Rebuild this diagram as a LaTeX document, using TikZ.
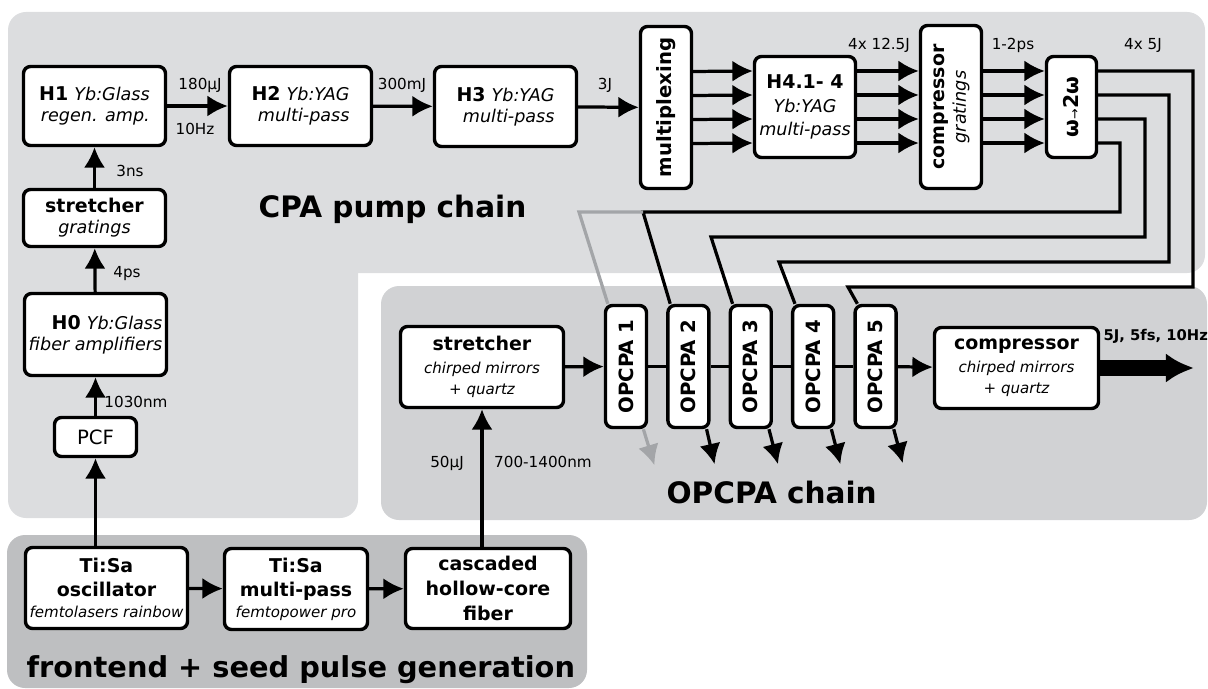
\documentclass[tikz,border=0pt]{standalone}
\usepackage{fontspec}
\setmainfont{DejaVu Sans}
\usepackage{graphicx}
\usepackage{tikz}
\definecolor{cpagray}{RGB}{220,221,223}
\definecolor{opgray}{RGB}{209,210,212}
\definecolor{frontgray}{RGB}{190,191,193}
\definecolor{residue}{RGB}{163,165,168}
\tikzstyle{block}=[draw,fill=white,rounded corners=5pt,line width=2.4pt,inner sep=0pt,align=center,
font=\fontsize{13.5}{15}\selectfont]
\tikzstyle{opcpa}=[block,minimum width=1.025cm,minimum height=3.05cm]
\tikzstyle{lbl}=[inner sep=0pt,font=\fontsize{10.8}{12}\selectfont]
\tikzstyle{chainname}=[inner sep=0pt,font=\fontsize{21}{24}\selectfont\bfseries]
\newcommand{\medit}[1]{{\fontsize{12.5}{14}\selectfont\itshape #1}}
\newcommand{\smallit}[1]{{\fontsize{10.7}{12}\selectfont\itshape #1}}
\usetikzlibrary{arrows.meta,positioning}

\begin{document}
\begin{tikzpicture}[x=0.025cm,y=-0.025cm,line width=2.3pt,>={Latex[length=14.5pt,width=15pt]}]
            \useasboundingbox (0,0) rectangle (1208,689);

            % PANELS

            \fill[cpagray,rounded corners=0.45cm] (8,12) rectangle (1205,273);
            \fill[cpagray,rounded corners=0.45cm] (8,200) rectangle (358,518);
            \fill[opgray,rounded corners=0.45cm] (381,286) rectangle (1207,520);
            \fill[frontgray,rounded corners=0.45cm] (7,535) rectangle (587,688);

            \node[chainname,anchor=base west] (cpatitle) at (257,217) {CPA pump chain};
            \node[chainname,anchor=base west] (optitle) at (665,503) {OPCPA chain};
            \node[chainname,anchor=base west,font=\fontsize{20.5}{24}\selectfont\bfseries] (fronttitle) at (25,677) {frontend + seed pulse generation};

            % FRONTEND PART

            \node[block,minimum width=4.05cm,minimum height=2.025cm] (osc) at (106.5,588)
                {\textbf{Ti:Sa}\\[2pt]\textbf{oscillator}\\\smallit{femtolasers rainbow}};
            \node[block,minimum width=3.575cm,minimum height=2.025cm] (tmp) at (296,589)
                {\textbf{Ti:Sa}\\[2pt]\textbf{multi-pass}\\\smallit{femtopower pro}};
            \node[block,minimum width=4.125cm,minimum height=2cm] (casc) at (488,588.5)
                {\textbf{cascaded}\\[3pt]\textbf{hollow-core}\\[3pt]\textbf{fiber}};

            \path[->] (osc) edge node {} (tmp);
            \path[->] (tmp) edge node {} (casc);

            % CPA PART

            \node[block,minimum width=2.05cm,minimum height=0.975cm,font=\fontsize{14}{15}\selectfont] (pcf) at (95.5,437) {PCF};
            \node[block,minimum width=3.55cm,minimum height=2.05cm,align=right] (h0) at (95.5,334.5)
                {\textbf{H0} \medit{Yb:Glass}\\\medit{fiber amplifiers}};
            \node[block,minimum width=3.55cm,minimum height=1.425cm] (str) at (94.5,218)
                {\textbf{stretcher}\\\medit{gratings}};
            \node[block,minimum width=3.55cm,minimum height=1.975cm,align=right] (h1) at (94.5,106)
                {\textbf{H1} \medit{Yb:Glass}\\\medit{regen. amp.}};
            \node[block,minimum width=3.55cm,minimum height=1.975cm,align=right] (h2) at (300.5,106)
                {\textbf{H2} \medit{Yb:YAG}\\\medit{multi-pass}};
            \node[block,minimum width=3.55cm,minimum height=2cm,align=right] (h3) at (505.5,106.5)
                {\textbf{H3} \medit{Yb:YAG}\\\medit{multi-pass}};
            \node[block,minimum width=1.275cm,minimum height=4.05cm] (mux) at (666,107.5)
                {\rotatebox{90}{\fontsize{14}{15}\selectfont\bfseries multiplexing}};
            \node[block,minimum width=2.525cm,minimum height=2.525cm] (h4) at (805,107)
                {\textbf{H4.1- 4}\\[2pt]\medit{Yb:YAG}\\[1pt]\medit{multi-pass}};
            \node[block,minimum width=1.525cm,minimum height=4.075cm] (comp) at (951,107)
                {\rotatebox{90}{\begin{tabular}{@{}c@{}}\textbf{compressor}\\\medit{gratings}\end{tabular}}};
            \node[block,minimum width=1.25cm,minimum height=2.525cm] (w2w) at (1071.5,107)
                {\rotatebox{90}{\fontsize{14.5}{15}\selectfont\bfseries ω{\mdseries\fontsize{9}{9}\selectfont →}2ω}};

            \draw[->] (osc.north -| pcf) -- (pcf);
            \path[->] (pcf) edge node {} (h0);
            \path[->] (h0) edge node {} (str);
            \path[->] (str) edge node {} (h1);
            \path[->] (h1) edge node {} (h2);
            \path[->] (h2) edge node {} (h3);
            \path[->] (h3) edge node {} (mux);

            \path[->] ([yshift=0.9cm]mux.east) edge ([yshift=0.9cm]h4.west);
            \path[->] ([yshift=0.3cm]mux.east) edge ([yshift=0.3cm]h4.west);
            \path[->] ([yshift=-0.3cm]mux.east) edge ([yshift=-0.3cm]h4.west);
            \path[->] ([yshift=-0.9cm]mux.east) edge ([yshift=-0.9cm]h4.west);
            \path[->] ([yshift=0.9cm]h4.east) edge ([yshift=0.9cm]comp.west);
            \path[->] ([yshift=0.3cm]h4.east) edge ([yshift=0.3cm]comp.west);
            \path[->] ([yshift=-0.3cm]h4.east) edge ([yshift=-0.3cm]comp.west);
            \path[->] ([yshift=-0.9cm]h4.east) edge ([yshift=-0.9cm]comp.west);
            \path[->] ([yshift=0.9cm]comp.east) edge ([yshift=0.9cm]w2w.west);
            \path[->] ([yshift=0.3cm]comp.east) edge ([yshift=0.3cm]w2w.west);
            \path[->] ([yshift=-0.3cm]comp.east) edge ([yshift=-0.3cm]w2w.west);
            \path[->] ([yshift=-0.9cm]comp.east) edge ([yshift=-0.9cm]w2w.west);

            \node[lbl,anchor=base] (e180) at (200,90) {180µJ};
            \node[lbl,anchor=base] (rep) at (195,135) {10Hz};
            \node[lbl,anchor=base] (e300) at (402,90) {300mJ};
            \node[lbl,anchor=base] (e3) at (605,90) {3J};
            \node[lbl,anchor=base] (e12) at (879,50) {4x 12.5J};
            \node[lbl,anchor=base] (tau) at (1013,50) {1-2ps};
            \node[lbl,anchor=base] (e5) at (1143,50) {4x 5J};
            \node[lbl,anchor=base] (t3) at (130,176) {3ns};
            \node[lbl,anchor=base] (t4) at (127,277) {4ps};
            \node[lbl,anchor=base] (l1030) at (136,407) {1030nm};

            % OPCPA PART

            \node[block,minimum width=4.075cm,minimum height=2.025cm] (ostr) at (482,367)
                {\textbf{stretcher}\\[1pt]\smallit{chirped mirrors}\\\smallit{+ quartz}};
            \node[opcpa] (op1) at (626,366.5) {\rotatebox{90}{\fontsize{14}{15}\selectfont\bfseries OPCPA 1}};
            \node[opcpa,right=0.45cm of op1] (op2) {\rotatebox{90}{\fontsize{14}{15}\selectfont\bfseries OPCPA 2}};
            \node[opcpa,right=0.45cm of op2] (op3) {\rotatebox{90}{\fontsize{14}{15}\selectfont\bfseries OPCPA 3}};
            \node[opcpa,right=0.45cm of op3] (op4) {\rotatebox{90}{\fontsize{14}{15}\selectfont\bfseries OPCPA 4}};
            \node[opcpa,right=0.45cm of op4] (op5) {\rotatebox{90}{\fontsize{14}{15}\selectfont\bfseries OPCPA 5}};
            \node[block,minimum width=4.1cm,minimum height=2.025cm] (ocomp) at (1016.5,368)
                {\textbf{compressor}\\[1pt]\smallit{chirped mirrors}\\\smallit{+ quartz}};
            \coordinate (out) at (1194,368);

            \draw[->] (casc.north -| ostr.south) -- (ostr.south);
            \path[->] (ostr) edge node {} (op1);
            \draw (op1) -- (op2);
            \draw (op2) -- (op3);
            \draw (op3) -- (op4);
            \draw (op4) -- (op5);
            \path[->] (op5) edge node {} (ocomp);
            \draw[line width=10.7pt,-{Latex[length=20pt,width=21pt]}] (ocomp) -- (out);

            \node[lbl,anchor=base] (e50) at (447,467) {50µJ};
            \node[lbl,anchor=base] (band) at (543,467) {700-1400nm};
            \node[lbl,anchor=base west,font=\fontsize{10.5}{12}\selectfont\bfseries] (final) at (1102,340) {5J, 5fs, 10Hz};

            % Pump beams to OPCPA stages

            \coordinate (fork) at (643,212);
            \draw ([yshift=0.9cm]w2w.east) -| (1193,287) -- (848,287) -- ([xshift=0.1cm]op5.north west);
            \draw ([yshift=0.3cm]w2w.east) -| (1169,262) -- (779,262) -- ([xshift=0.1cm]op4.north west);
            \draw ([yshift=-0.3cm]w2w.east) -| (1145,237) -- (711,237) -- ([xshift=0.1cm]op3.north west);
            \draw ([yshift=-0.9cm]w2w.east) -| (1120,212) -- (fork) -- ([xshift=0.1cm]op2.north west);
            \draw[residue] (fork) -- (579,212) -- ([xshift=0.1cm]op1.north west);

            \draw[residue,->] ([xshift=-0.12cm]op1.south east) -- ++(11,36);
            \draw[->] ([xshift=-0.1cm]op2.south east) -- ++(8,35);
            \draw[->] ([xshift=-0.1cm]op3.south east) -- ++(9,35);
            \draw[->] ([xshift=-0.1cm]op4.south east) -- ++(9,35);
            \draw[->] ([xshift=-0.1cm]op5.south east) -- ++(9,34);

        \end{tikzpicture}
\end{document}
